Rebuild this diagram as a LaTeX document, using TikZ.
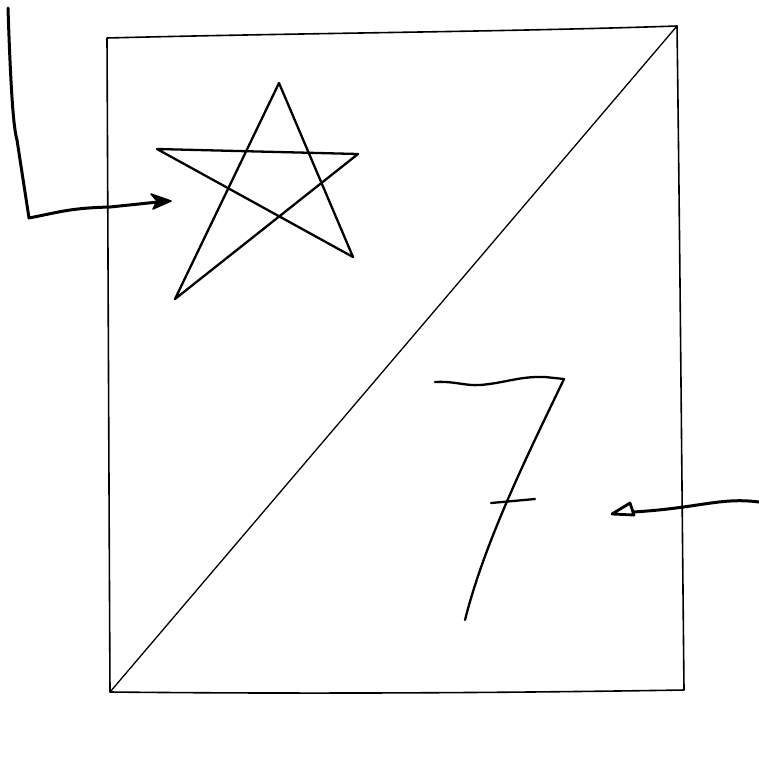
\documentclass[tikz,border=0pt]{standalone}
\begin{document}
\begin{tikzpicture}[x=1pt,y=-1pt,line join=round,line cap=round,
  frame/.style={draw=black,line width=1.6pt},
  sketch/.style={draw=black,line width=2.3pt},
  pointer/.style={draw=black,line width=3pt}]
\useasboundingbox (0,0) rectangle (759,758);
% frame
\coordinate (tl) at (107,38);
\coordinate (tr) at (677,26);
\coordinate (br) at (684,690);
\coordinate (bl) at (110,692);
\draw[frame] (tl) .. controls (300,33) and (500,32) .. (tr)
  .. controls (680,250) and (682,500) .. (br)
  .. controls (500,693) and (300,694) .. (bl)
  .. controls (109,500) and (108,250) .. (tl);
\draw[frame,line width=1.3pt] (bl) -- (tr);
% star
\coordinate (s1) at (175,299);
\coordinate (s2) at (279,83);
\coordinate (s3) at (353,257);
\coordinate (s4) at (157,149);
\coordinate (s5) at (358,154);
\draw[sketch] (s1) -- (s2) -- (s3) -- (s4) -- (s5) -- cycle;
% seven
\coordinate (t1) at (435,382);
\coordinate (t2) at (564,379);
\coordinate (t3) at (465,620);
\draw[sketch] (t1) .. controls (455,381) and (465,386) .. (480,385)
  .. controls (505,383) and (520,376) .. (545,377) -- (t2)
  .. controls (530,450) and (485,540) .. (t3);
\coordinate (c1) at (491,503);
\coordinate (c2) at (535,499);
\draw[sketch] (c1) -- (c2);
% left pointer
\coordinate (a0) at (8,8);
\coordinate (a1) at (29,218);
\coordinate (a2) at (158,202);
\coordinate (at) at (171,201);
\draw[pointer] (a0) .. controls (11,100) and (14,130) .. (17,140)
  -- (a1) .. controls (60,212) and (70,208) .. (110,207) -- (a2);
\fill[draw=black,line width=1.5pt] (at) -- (151,194) -- (157,201) -- (153,209) -- cycle;
% right pointer
\coordinate (b0) at (759,502);
\coordinate (bt) at (612,514);
\coordinate (b1) at (633,512);
\draw[pointer] (b0) .. controls (720,497) and (700,508) .. (b1);
\draw[pointer,line width=2.8pt] (bt) -- (630,503) -- (634,515) -- cycle;
\end{tikzpicture}
\end{document}
